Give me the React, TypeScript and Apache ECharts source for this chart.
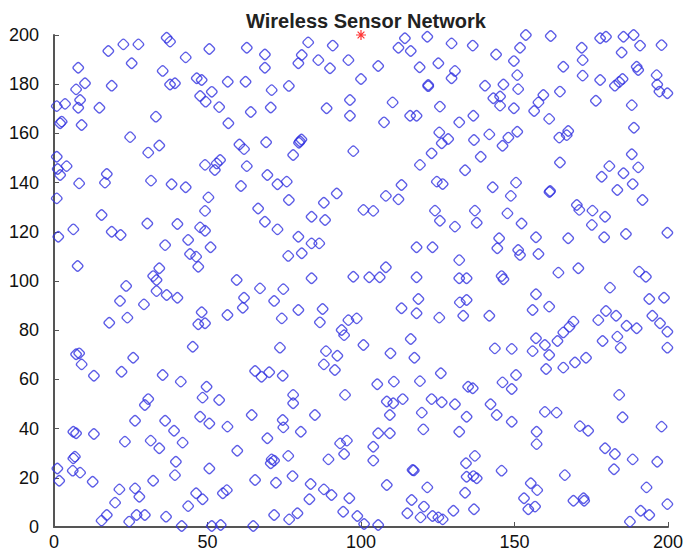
import React, { useEffect, useRef } from "react";
import * as echarts from "echarts";

const chartTitle = "Wireless Sensor Network";
const xTicks = [0, 50, 100, 150, 200];
const yTicks = [0, 20, 40, 60, 80, 100, 120, 140, 160, 180, 200];
const sinkNode = [100, 200];

// sensor node positions [x, y]
const nodePositions: number[][] = [
  // top-left
  [17.7,193.5],[22.6,196.2],[27.5,196.2],[36.7,198.9],[37.8,197.3],[50.6,194.3],[62.8,194.8],[7.9,186.7],[25.3,188.5],[42.9,190.9],
  [35.4,185.4],[10.1,180.4],[7.2,177.9],[18.8,179.4],[37.8,179.9],[39.4,180.4],[46.5,182.4],[48.1,181.7],[56.6,181],[62.4,181],
  [51.4,176.9],[47.6,175.2],[49.4,172.9],[8.5,173.6],[0.9,171.1],[3.6,172],[7.9,170.4],[14.8,170.4],[53.8,170.7],[64.1,168.7],
  [2,164.1],[2.5,164.8],[9,163.4],[33.2,166.8],[56.8,164.1],[24.8,158.5],[30.7,152.2],[34.3,155.1],[60.4,155.5],[61.9,153.6],[0.9,150.5],
  // top-middle
  [82.8,197],[90.8,195.7],[68.7,192.1],[80.7,191.9],[79.6,188.5],[86.1,189.8],[89.9,186.5],[95.9,189.8],[105.6,187.4],[68.7,186.7],
  [114.3,198.7],[112.2,194.8],[116.2,193.5],[121.6,199.3],[129.5,196.6],[125.2,188.5],[119.1,186.9],[130.6,185.4],[129.5,182.4],[100,182.1],
  [121.9,179.7],[121.9,179.2],[70.9,177.6],[76.5,179.3],[96.4,173.6],[88.8,170.2],[96.4,167.2],[110.3,172.6],[116,167.2],[118.1,167.2],
  [125.7,170.9],[132,164.5],[70.6,170.5],[107.5,164.5],[125.5,160.4],[128.4,157.7],[126.3,156],[69.1,156.4],[80.1,156.8],[80.6,157.5],
  [79.8,156.2],[77.9,151.2],[97.5,152.8],[123,151.9],
  // top-right
  [136.4,195.7],[153.7,200],[161.8,199.6],[144,192.1],[151.8,194.8],[149.8,189.4],[150.9,183.7],[171.9,194.8],[172.2,189.8],[177.9,198.7],
  [179.8,199.3],[185.5,199.3],[188.8,200],[184.9,192.9],[190.9,195.7],[197.9,195.9],[165.9,187.1],[172.2,183.5],[177.9,181.7],[189.8,187.1],
  [190.3,185.8],[185.2,182.1],[182.7,179.4],[184.1,180.9],[140.4,179.4],[146.4,179.9],[151.2,178],[196.3,183.7],[196.5,179.9],[197.2,177],
  [199.8,176.3],[164.8,177],[159.4,175.6],[143.1,174.3],[145.3,175],[145.3,171.3],[157.8,172.6],[156.4,169.1],[149.8,170.2],[176.5,173.3],
  [188.2,171.5],[136.6,167.2],[161.3,165.9],[188.9,162.3],[141.8,159.6],[136.8,157.3],[148,158.3],[150.9,160.7],[146.1,155],[164.6,158.3],
  [167,159.3],[167.5,161],[139,150.5],[188.2,151.5],
  // upper-middle band, left
  [1.2,145.5],[4.1,146.7],[2,143.1],[17.2,143.5],[16.6,140],[8.2,139.7],[31.6,140.8],[38.3,139.3],[42.9,138.1],[49.2,147.2],
  [52.4,145.1],[54.1,149.2],[53,147.8],[62.8,146.7],[60.9,138.6],[0.9,133.6],[50.3,134],[66.5,129.5],[49.2,128.5],[15.5,126.8],
  [30.4,123.4],[40.2,123.2],[47.6,121.8],[49.2,120.4],[6.3,121],[18.8,120],[21.7,118.7],[1.4,118],[43.7,116.7],[36.2,114.6],
  [51,113.7],[44.3,111],[46.3,109.9],[47,105.8],[7.7,106.1],[34.3,105.2],[32.3,102],[33.4,100.4],[59.5,100.4],
  // upper-middle band, centre
  [119.2,147.2],[133.9,145],[69.5,143.1],[72.8,139.3],[75.8,140.4],[76.5,132.9],[92.1,135.6],[87.9,131.8],[108.1,134.6],[113.2,139],
  [112.2,133.2],[100.8,128.9],[104,128.5],[124.7,140.4],[126.6,139.4],[68.7,124.1],[72.8,121],[83.9,126.1],[88.3,124.8],[124.1,128.6],
  [125.7,124.5],[130.6,122.1],[79.6,118],[83.9,115.3],[86.4,115.3],[76.3,110.2],[80.7,111.3],[118.1,113.7],[123.3,113.7],[132,108.5],
  [83.9,101.1],[97.5,101.7],[102.7,101.5],[106.1,101.5],[108.1,105.6],[118.1,101.5],[132,101.1],[134.4,101.1],
  // upper-middle band, right
  [164.8,148.2],[180.9,146.7],[178.4,142.4],[185.5,143.8],[190.3,146.2],[188.5,139.4],[183.5,137],[191.7,132.9],[142.9,138.1],[150.5,140],
  [148.8,134.6],[161.6,136.6],[161.4,136.2],[137.1,128.6],[137.7,123.7],[147.7,127.5],[152.3,123.4],[170.3,130.9],[171.1,128.9],[175.4,128.6],
  [179.5,126.1],[175.2,122.8],[157,117.8],[167.5,117.4],[179.2,117.8],[186.3,119.1],[199.8,119.6],[145,117.4],[144.4,113.3],[151.2,112.6],
  [151.8,110.6],[157.8,111],[170.8,105.2],[164.3,103.4],[190.6,103.8],[192.8,101.7],[145.8,102],[146.4,100.7],
  // lower-middle band, left
  [23.5,98],[21.5,91.9],[29.3,90.5],[33.4,95.9],[36.7,94.3],[40.2,93.2],[61.9,93.2],[61.5,89.1],[18,83],[23.9,85.1],
  [48.1,87.3],[47,82.4],[49.2,82.8],[56.5,86.2],[45.2,73.3],[7.2,70.2],[8.2,70.6],[9,66.1],[25.8,68.8],[22,63.1],
  [13,61.5],[35.4,61.8],[41.3,59.1],[49.7,57],[48.4,52.6],[53.8,51.6],[30.7,52],[29.6,49.6],
  // lower-middle band, centre
  [67.1,97],[74.7,96.7],[71.7,91.9],[79.6,88.2],[74.2,84.8],[87.5,88.6],[86.6,83.2],[95.9,84.1],[98.6,84.8],[93.7,80.1],
  [94.5,78],[113.2,88.9],[118.7,92.7],[118.1,86.9],[125.5,85.1],[132.2,91.3],[134.4,92.3],[133.3,85.9],[73.6,72.9],[100.8,74],
  [88.6,71.5],[92.3,69.6],[87.9,66.1],[91.5,63.8],[109.6,70.6],[116.2,76.4],[117.4,68.8],[65.5,63.4],[67.6,61.1],[70.1,62.9],
  [74.5,61.5],[105.3,58],[110.7,59.1],[119.2,59.3],[126,62.5],[134.9,57],[94.8,53.7],[77.9,53.7],[77.9,50.3],[108.4,51],
  [110.5,50.3],[113.6,52],[123,52],[126.3,50.7],[130.6,49.9],
  // lower-middle band, right
  [141.8,85.9],[157,94.6],[155.9,88.2],[161.3,89.6],[181.1,97.3],[193.9,92.7],[198.7,93.2],[179.8,87.8],[177.3,84.1],[183.1,85.9],
  [186.5,81.8],[189.8,80.8],[194.9,85.9],[197.4,82.8],[199.8,79.4],[199.8,72.9],[169.2,83.5],[167.9,81.4],[165.9,79.1],[164,75.6],
  [157,76.7],[159.9,74],[155.9,71.5],[161.3,69.9],[143.6,72.6],[149.1,72.4],[178.7,75.6],[183.5,77.4],[184.6,72.9],[160.3,64.2],
  [165.9,64.8],[169.7,66.9],[173.3,68.8],[150.5,61.8],[146.1,58.8],[149.1,56.1],[136.4,56.4],[184.1,53.7],[142.2,49.9],
  // bottom-left
  [64.4,45.5],[26.4,43.2],[36.2,43.2],[39.1,39.1],[41.9,34.3],[47.6,44.8],[50.6,42.1],[56.5,40.8],[6.3,38.7],[7.2,38.1],
  [13,37.8],[23.1,34.7],[31.5,35.1],[34.3,32],[59.7,31],[6.3,27.9],[6.8,28.6],[6.1,22.9],[8.5,22.1],[1.1,23.8],
  [1.7,18.8],[12.6,18.4],[39.7,26.5],[39.4,21.1],[50.6,23.8],[32.3,18.8],[65.5,19.1],[21.3,15.3],[19.9,9.9],[26.4,15.7],
  [27.8,12.3],[46.3,13.7],[48.4,11.3],[55,13.7],[56.3,15],[43.7,8.5],[15.5,2.6],[17.2,4.9],[24.5,2.2],[26.9,4.9],
  [29.6,4.9],[36.5,4.2],[41.6,0.4],[51.4,0.4],[54.3,0.8],[64.9,0.4],
  // bottom-middle
  [74.5,43.5],[74.7,40.5],[85,45.5],[80.4,38.7],[69.5,36.1],[109.4,45.5],[119.8,46.5],[120.3,39.7],[132,38.7],[134.4,44.8],
  [105.6,38.1],[109.4,38.1],[93.2,34],[95.4,35.1],[94.5,29.7],[104,32.6],[104,27],[89.4,27.5],[70.9,27.5],[71.7,27],
  [70.6,25.9],[76.3,28.9],[72.3,18],[77.7,20.7],[83.6,17.5],[83.2,11.3],[87.9,15.3],[90.4,13],[96.2,11.7],[94.2,6.2],
  [71.7,4.9],[76.6,3.1],[79.3,5.6],[98.8,4.5],[101,1.2],[105.6,0.8],[108.4,17.1],[134.2,25.9],[116.8,23.2],[117.2,23],
  [121.6,16.1],[134.4,20.4],[133.9,13.9],[116.5,11],[120.5,8.3],[115.1,5.6],[119.4,3.9],[123.3,4.5],[125.2,3.9],[126.6,3.1],
  [130.1,6.6],
  // bottom-right
  [144.2,45.5],[149.1,42.8],[159.9,46.8],[163.7,46.5],[157.2,38.7],[157.2,33.7],[171.3,41],[174,39.1],[185.2,44.6],[197.9,40.8],
  [179.5,32],[182.7,29.7],[188.5,27.5],[196.5,26.5],[182.4,23.5],[137.1,28.9],[136.6,20.7],[137.7,19.8],[145.8,22.9],[136.8,7.2],
  [166.4,21.1],[155.3,17.8],[157.4,15],[153.1,11.7],[154.5,7.2],[156.7,8.3],[169.2,10.7],[172.5,11.7],[172.7,10.7],[193,16.1],
  [199.8,9.3],[191.1,6.6],[193.9,4.9],[187.6,2.2],
];

const asteriskPath =
  "path://M5,0L5,10M0,5L10,5M1.6,1.6L8.4,8.4M8.4,1.6L1.6,8.4";

export default function App() {
  const ref = useRef<HTMLDivElement>(null);

  useEffect(() => {
    if (!ref.current) return;
    const chart = echarts.init(ref.current, null, { renderer: "svg" });
    const labelFont = {
      color: "#111",
      fontFamily: "Liberation Sans, Arial, sans-serif",
      fontSize: 18,
    };
    chart.setOption({
      animation: false,
      backgroundColor: "#fff",
      title: {
        text: chartTitle,
        left: 361,
        top: 6,
        textAlign: "center",
        textStyle: {
          color: "#222",
          fontFamily: "Liberation Sans, Arial, sans-serif",
          fontSize: 20,
          fontWeight: "bold",
        },
      },
      grid: { left: 54, right: 20, top: 35, bottom: 32, containLabel: false },
      xAxis: {
        type: "value",
        min: xTicks[0],
        max: xTicks[xTicks.length - 1],
        interval: 50,
        axisLine: { show: true, lineStyle: { color: "#555", width: 2 } },
        axisTick: { show: true, inside: true, length: 5, lineStyle: { color: "#555" } },
        axisLabel: { ...labelFont, margin: 6 },
        splitLine: { show: false },
      },
      yAxis: {
        type: "value",
        min: yTicks[0],
        max: yTicks[yTicks.length - 1],
        interval: 20,
        axisLine: { show: true, lineStyle: { color: "#555", width: 2 } },
        axisTick: { show: true, inside: true, length: 5, lineStyle: { color: "#555" } },
        axisLabel: { ...labelFont, margin: 15 },
        splitLine: { show: false },
      },
      series: [
        {
          type: "scatter",
          data: nodePositions,
          symbol: "roundRect",
          symbolRotate: 45,
          symbolSize: 8.5,
          clip: false,
          itemStyle: { color: "none", borderColor: "#3333e0", borderWidth: 1.3 },
          silent: true,
        },
        {
          type: "scatter",
          data: [sinkNode],
          symbol: asteriskPath,
          symbolSize: 10,
          clip: false,
          itemStyle: { color: "none", borderColor: "#ff0000", borderWidth: 1.2 },
          silent: true,
        },
      ],
    });
    return () => chart.dispose();
  }, []);

  return (
    <div
      ref={ref}
      style={{ position: "absolute", left: 0, top: 0, width: 688, height: 559 }}
    />
  );
}
